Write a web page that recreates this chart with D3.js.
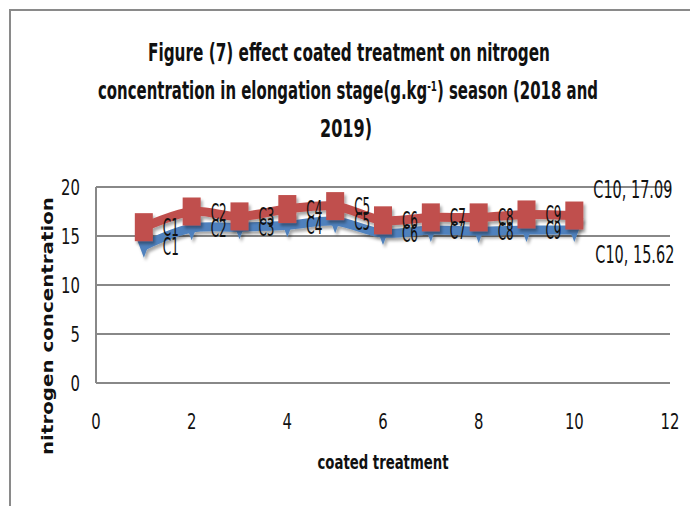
<!DOCTYPE html>
<html>
<head>
<title>Nitrogen concentration</title>
<script src="https://d3js.org/d3.v7.min.js"></script>
<style>
body { margin:0; background:#fff; }
text { font-family: "Liberation Sans Narrow", "DejaVu Sans Condensed", Arial, sans-serif; fill:#111; }
</style>
</head>
<body>
<script>
// data
var treatments = [1,2,3,4,5,6,7,8,9,10];
var labels = ["C1","C2","C3","C4","C5","C6","C7","C8","C9","C10"];
var season2018 = [15.9, 17.5, 17.0, 17.75, 18.05, 16.6, 16.9, 16.9, 17.2, 17.09];
var season2019 = [14.0, 15.8, 15.9, 16.1, 16.5, 15.3, 15.6, 15.5, 15.6, 15.62];
var xTicks = [0,2,4,6,8,10,12];
var yTicks = [0,5,10,15,20];
var titleLines = ["Figure (7) effect  coated treatment on nitrogen",
                  "concentration  in elongation stage(g.kg", ") season (2018 and",
                  "2019)"];

var W = 690, H = 506;
var svg = d3.select("body").append("svg").attr("width", W).attr("height", H);

var defs = svg.append("defs");
var f = defs.append("filter").attr("id","shadow").attr("x","-10%").attr("y","-50%").attr("width","130%").attr("height","200%");
f.append("feDropShadow").attr("dx",2).attr("dy",3).attr("stdDeviation",1.5)
  .attr("flood-color","#000").attr("flood-opacity",0.35);

// outer frame
svg.append("path").attr("d","M10,506 L10,10 L690,10")
  .attr("fill","none").attr("stroke","#8a8a8a").attr("stroke-width",2);

var x = d3.scaleLinear().domain([0,12]).range([96,670]);
var y = d3.scaleLinear().domain([0,20]).range([383,187]);

// gridlines
svg.append("g").selectAll("line").data(yTicks).enter().append("line")
  .attr("x1", x(0)).attr("x2", x(12))
  .attr("y1", function(d){ return y(d); }).attr("y2", function(d){ return y(d); })
  .attr("stroke","#888").attr("stroke-width",2);
svg.append("line").attr("x1",x(0)).attr("x2",x(0)).attr("y1",y(20)).attr("y2",y(0))
  .attr("stroke","#888").attr("stroke-width",2);

// tick labels
svg.append("g").selectAll("text").data(yTicks).enter().append("text")
  .attr("transform", function(d){ return "translate(80," + (y(d)+8) + ") scale(0.75,1)"; })
  .attr("text-anchor","end").style("font-size","22px")
  .text(function(d){ return d; });
svg.append("g").selectAll("text").data(xTicks).enter().append("text")
  .attr("transform", function(d){ return "translate(" + x(d) + ",429) scale(0.75,1)"; })
  .attr("text-anchor","middle").style("font-size","22px")
  .text(function(d){ return d; });

// axis titles
svg.append("text").attr("x",383).attr("y",469).attr("text-anchor","middle")
  .style("font-size","19px").style("font-weight","bold")
  .attr("textLength",131).attr("lengthAdjust","spacingAndGlyphs")
  .text("coated treatment");
svg.append("text").attr("transform","translate(53,326) rotate(-90)")
  .attr("text-anchor","middle")
  .style("font-family","'DejaVu Sans', Verdana, sans-serif")
  .style("font-size","15px").style("font-weight","bold")
  .attr("textLength",258).attr("lengthAdjust","spacingAndGlyphs")
  .text("nitrogen concentration");

// title
var tg = svg.append("g").style("font-size","24px").style("font-weight","bold");
tg.append("text").attr("x",349).attr("y",61).attr("text-anchor","middle")
  .attr("textLength",402).attr("lengthAdjust","spacingAndGlyphs")
  .text(titleLines[0]);
var t2 = tg.append("text").attr("x",348).attr("y",99).attr("text-anchor","middle")
  .attr("textLength",500).attr("lengthAdjust","spacingAndGlyphs");
t2.append("tspan").text(titleLines[1]);
t2.append("tspan").attr("dy",-8).style("font-size","14px").text("-1");
t2.append("tspan").attr("dy",8).text(titleLines[2]);
tg.append("text").attr("x",346).attr("y",137).attr("text-anchor","middle")
  .attr("textLength",52).attr("lengthAdjust","spacingAndGlyphs")
  .text(titleLines[3]);

var line = d3.line().curve(d3.curveCatmullRom.alpha(0.5))
  .x(function(d){ return x(d[0]); }).y(function(d){ return y(d[1]); });

var blueData = d3.zip(treatments, season2019);
var redData = d3.zip(treatments, season2018);

var blue = "#4F81BD", red = "#C0504D";

var gb = svg.append("g").attr("filter","url(#shadow)");
gb.append("path").attr("d", line(blueData)).attr("fill","none")
  .attr("stroke", blue).attr("stroke-width",9);
gb.selectAll("path.m").data(blueData).enter().append("path").attr("class","m")
  .attr("d", function(d){ var cx=x(d[0]), cy=y(d[1]);
    return "M"+(cx-9)+","+(cy-12)+"L"+(cx+9)+","+(cy-12)+"L"+cx+","+(cy+12)+"Z"; })
  .attr("fill", blue);

var gr = svg.append("g").attr("filter","url(#shadow)");
gr.append("path").attr("d", line(redData)).attr("fill","none")
  .attr("stroke", red).attr("stroke-width",9);
gr.selectAll("rect").data(redData).enter().append("rect")
  .attr("x", function(d){ return x(d[0])-9; }).attr("y", function(d){ return y(d[1])-14; })
  .attr("width",18).attr("height",28).attr("fill", red);

// data labels
function dataLabels(data, lastDx, lastDy) {
  svg.append("g").selectAll("text").data(data).enter().append("text")
    .attr("x", function(d,i){ return x(d[0]) + (i === data.length-1 ? lastDx : 19); })
    .attr("y", function(d,i){ return y(d[1]) + (i === data.length-1 ? lastDy : 9); })
    .style("font-size","24px")
    .attr("textLength", function(d,i){ return i === data.length-1 ? 79 : 16; })
    .attr("lengthAdjust","spacingAndGlyphs")
    .text(function(d,i){ return i === data.length-1 ? labels[i] + ", " + d[1].toFixed(2) : labels[i]; });
}
dataLabels(redData, 19, -18);
dataLabels(blueData, 21, 33);
</script>
</body>
</html>
